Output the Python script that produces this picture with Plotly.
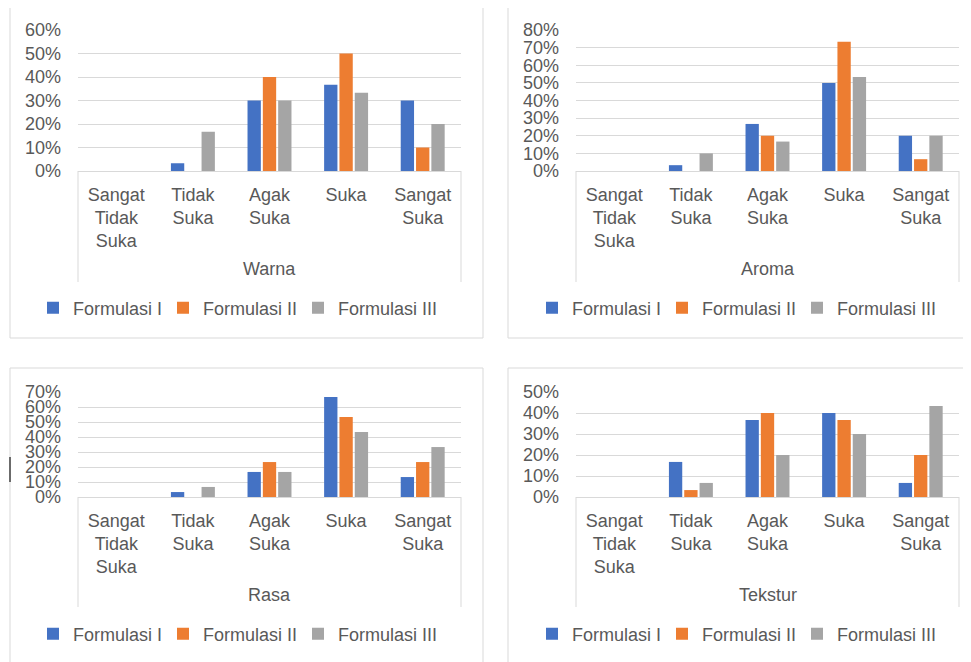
import plotly.graph_objects as go

categories = ["Sangat<br>Tidak<br>Suka", "Tidak<br>Suka", "Agak<br>Suka", "Suka", "Sangat<br>Suka"]
series_names = ["Formulasi I", "Formulasi II", "Formulasi III"]
colors = ["#4472C4", "#ED7D31", "#A5A5A5"]

warna_f1 = [0, 3.3, 30, 36.7, 30]
warna_f2 = [0, 0, 40, 50, 10]
warna_f3 = [0, 16.7, 30, 33.3, 20]

aroma_f1 = [0, 3.3, 26.7, 50, 20]
aroma_f2 = [0, 0, 20, 73.3, 6.7]
aroma_f3 = [0, 10, 16.7, 53.3, 20]

rasa_f1 = [0, 3.3, 16.7, 66.7, 13.3]
rasa_f2 = [0, 0, 23.3, 53.3, 23.3]
rasa_f3 = [0, 6.7, 16.7, 43.3, 33.3]

tekstur_f1 = [0, 16.7, 36.7, 40, 6.7]
tekstur_f2 = [0, 3.3, 40, 36.7, 20]
tekstur_f3 = [0, 6.7, 20, 30, 43.3]

panel_titles = ["Warna", "Aroma", "Rasa", "Tekstur"]
panel_ymax = [60, 80, 70, 50]
panel_data = [
    [warna_f1, warna_f2, warna_f3],
    [aroma_f1, aroma_f2, aroma_f3],
    [rasa_f1, rasa_f2, rasa_f3],
    [tekstur_f1, tekstur_f2, tekstur_f3],
]

# page has an 8px body margin: figure is drawn 8px right/down of the page origin
OFF = 8
W, H = 971 - OFF, 662 - OFF
def px(x):
    return (x - OFF) / W
def py(y):
    return 1 - (y - OFF) / H

FONT = "Liberation Sans, Arial, sans-serif"
TXT = "#595959"
GRID = "#D9D9D9"

# layout geometry (page pixels)
plot_x = [(78, 461), (576, 959), (78, 461), (576, 959)]
plot_y = [(30, 171), (30, 171), (392, 497), (392, 497)]
box = [(10, 7, 483, 338), (508, 7, 990, 338), (10, 368, 483, 690), (508, 368, 990, 690)]
vline_bottom = [282, 282, 607, 607]
title_y = [269, 269, 595, 595]
legend_y = [308, 308, 634, 634]
legend_left = [33, 532, 33, 532]
legend_widths = [85, 90, 108]

fig = go.Figure()
shapes = []
annotations = []
layout_axes = {}

for i in range(4):
    xa = "x" if i == 0 else f"x{i+1}"
    ya = "y" if i == 0 else f"y{i+1}"
    lg = "legend" if i == 0 else f"legend{i+1}"
    for s in range(3):
        fig.add_trace(go.Bar(
            x=categories, y=panel_data[i][s], name=series_names[s],
            marker=dict(color=colors[s], line=dict(width=0)),
            xaxis=xa, yaxis=ya, legend=lg, legendwidth=legend_widths[s],
        ))
    xk = "xaxis" if i == 0 else f"xaxis{i+1}"
    yk = "yaxis" if i == 0 else f"yaxis{i+1}"
    x0, x1 = plot_x[i]
    y0, y1 = plot_y[i]
    layout_axes[xk] = dict(
        domain=[px(x0), px(x1)], anchor=ya, automargin=False,
        showgrid=False, showline=True, linecolor=GRID, linewidth=1,
        ticks="", tickfont=dict(family=FONT, size=18, color=TXT),
        ticklabelstandoff=7, fixedrange=True,
    )
    layout_axes[yk] = dict(
        domain=[py(y1), py(y0)], anchor=xa, automargin=False,
        range=[0, panel_ymax[i]], dtick=10, ticksuffix="%",
        showgrid=True, gridcolor=GRID, gridwidth=1,
        zeroline=False, showline=False, ticks="",
        tickfont=dict(family=FONT, size=18, color=TXT),
        ticklabelstandoff=16, fixedrange=True,
    )
    layout_axes[lg] = dict(
        orientation="h", x=px(legend_left[i]), y=py(legend_y[i]),
        xanchor="left", yanchor="middle",
        font=dict(family=FONT, size=18, color=TXT),
        bgcolor="rgba(0,0,0,0)", itemwidth=30,
        entrywidthmode="pixels", traceorder="normal",
    )
    bx0, by0, bx1, by1 = box[i]
    shapes.append(dict(type="rect", xref="paper", yref="paper",
                       x0=px(bx0), x1=px(bx1), y0=py(by1), y1=py(by0),
                       line=dict(color=GRID, width=1), layer="below"))
    for xx in (x0, x1):
        shapes.append(dict(type="line", xref="paper", yref="paper",
                           x0=px(xx), x1=px(xx), y0=py(y1), y1=py(vline_bottom[i]),
                           line=dict(color=GRID, width=1)))
    annotations.append(dict(text=panel_titles[i], xref="paper", yref="paper",
                            x=px((x0 + x1) / 2), y=py(title_y[i]),
                            xanchor="center", yanchor="middle", showarrow=False,
                            font=dict(family=FONT, size=18, color=TXT)))

# small dark vertical mark at left edge (present in reference)
shapes.append(dict(type="line", xref="paper", yref="paper",
                   x0=px(10), x1=px(10), y0=py(457), y1=py(482),
                   line=dict(color="#404040", width=1.5)))

fig.update_layout(
    width=W, height=H, margin=dict(l=0, r=0, t=0, b=0, autoexpand=False),
    paper_bgcolor="white", plot_bgcolor="white",
    barmode="group", bargap=0.4, bargroupgap=0.13,
    shapes=shapes, annotations=annotations,
    font=dict(family=FONT, color=TXT),
    **layout_axes,
)

fig.write_html("out.html")
